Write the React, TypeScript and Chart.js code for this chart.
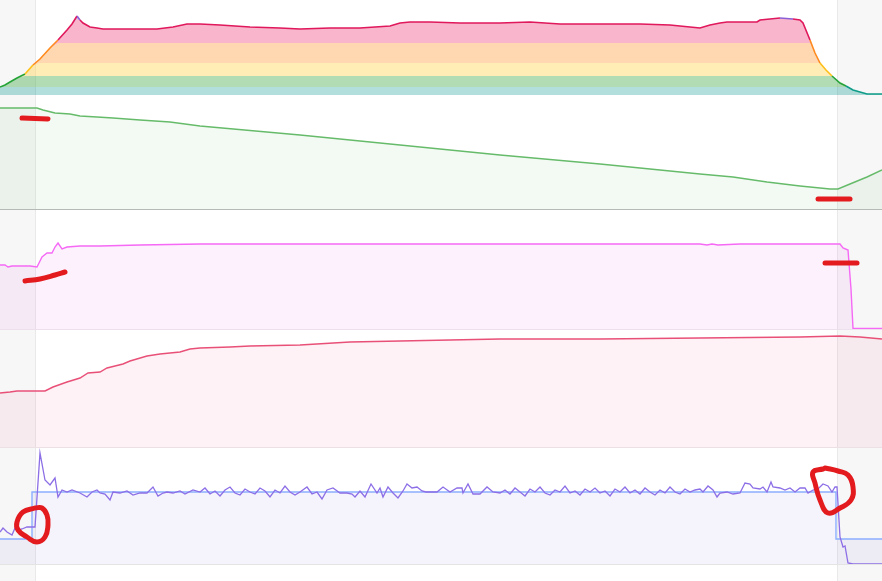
import React, { useEffect, useRef } from "react";
import { Chart, registerables } from "chart.js";
Chart.register(...registerables);

const WIDTH = 882;
const WORK_START = 35;
const WORK_END = 837;

// ---------- Panel 1: power with zones ----------
const powerT = [0, 5, 10, 17, 25, 33, 40, 50, 58, 67, 72, 77, 80, 83, 90, 97, 103, 130, 157, 173, 187, 200, 220, 250, 280, 300, 330, 360, 390, 400, 410, 430, 460, 500, 530, 560, 600, 640, 670, 690, 700, 710, 720, 727, 757, 760, 780, 793, 800, 803, 810, 815, 820, 826, 832, 840, 846, 853, 860, 867, 882];
const powerV = [8, 10, 13, 17, 21, 30, 36, 47, 55, 65, 71, 79, 75, 72, 68, 67, 66, 66, 66, 68, 71, 71, 70, 68, 67, 66, 67, 67, 69, 72, 73, 73, 72, 72, 73, 71, 71, 71, 70, 68, 67, 70, 72, 73, 73, 75, 77, 76, 75, 72, 55, 42, 32, 25, 19, 12, 9, 5, 3, 1, 1];
const zoneTops = [8, 19, 32, 52, 76, 200];
const zoneLine = ["#0f9c88", "#26a338", "#ffbf1a", "#ff8a1e", "#e0185c", "#8d5fd6"];
const zoneFill = ["rgba(0,150,136,0.30)", "rgba(76,175,80,0.43)", "rgba(255,213,79,0.42)", "rgba(255,140,30,0.35)", "rgba(233,30,99,0.33)", "rgba(126,87,194,0.40)"];

// ---------- Panel 2: green declining ----------
const greenT = [0, 37, 43, 55, 70, 80, 97, 113, 140, 170, 200, 300, 400, 500, 600, 700, 733, 767, 800, 830, 838, 850, 867, 882];
const greenV = [101, 101, 99, 96, 95, 93, 92, 91, 89, 87, 83, 74, 64, 54, 45, 35, 32, 27, 23, 20, 20, 25, 32, 39];
const greenMarkT = [22, 35, 48];
const greenMarkV = [91, 90.5, 90];
const greenMark2T = [818, 850];
const greenMark2V = [10, 10];

// ---------- Panel 3: magenta ----------
const magT = [0, 5, 8, 12, 20, 30, 37, 42, 47, 52, 55, 58, 62, 67, 80, 100, 140, 200, 300, 400, 500, 600, 700, 707, 712, 718, 740, 760, 840, 843, 848, 851, 853, 882];
const magV = [64, 64, 62, 63, 63, 63, 62, 72, 76, 76, 82, 86, 80, 82, 83, 83, 84, 85, 85, 85, 85, 85, 85, 84, 85, 84, 85, 85, 85, 81, 79, 40, 0.5, 0.5];
const magMarkT = [25, 40, 55, 65];
const magMarkV = [48, 50, 54, 57];
const magMark2T = [825, 857];
const magMark2V = [66, 66];

// ---------- Panel 4: crimson ----------
const crimT = [0, 10, 17, 45, 53, 67, 80, 88, 100, 107, 123, 130, 147, 160, 180, 190, 200, 230, 250, 300, 350, 400, 500, 600, 700, 800, 840, 860, 882];
const crimV = [54, 55, 56, 56, 60, 65, 69, 74, 75, 79, 83, 86, 91, 93, 95, 98, 99, 100, 101, 102, 105, 106, 108, 108, 109, 110, 111, 110, 108];

// ---------- Panel 5: purple noisy + target step ----------
const purpT = [0, 3, 7, 12, 15, 18, 22, 27, 32, 35, 40, 45, 50, 55, 58, 62, 67, 72, 80, 87, 92, 97, 100, 105, 110, 113, 120, 127, 133, 140, 147, 153, 158, 163, 167, 173, 180, 185, 193, 200,
  205, 210, 215, 220, 225, 230, 235, 240, 245, 250, 255, 260, 265, 270, 275, 280, 285, 290, 295,
  300, 307, 312, 317, 322, 327, 333, 340, 347, 352, 355, 360, 365, 371, 377, 380, 383, 388, 393, 398, 403, 407, 412, 417, 422, 426, 430, 437, 443, 450, 457, 462, 463, 468, 473, 480, 487, 493, 500,
  505, 510, 515, 520, 525, 530, 535, 540, 545, 550, 555, 560, 565, 570, 575, 580, 585, 590, 595, 600, 605, 610, 615, 620, 625, 630, 635, 640, 645, 650, 655, 660, 665, 670, 675, 680, 685, 690, 695,
  700, 703, 708, 713, 717, 720, 727, 733, 740, 745, 750, 753, 760, 763, 767, 771, 773, 780, 785, 790, 795, 800, 805, 808, 813, 818, 823, 828, 832, 835, 837, 840, 843, 845, 848, 853, 882];
const purpV = [32, 36, 32, 29, 36, 34, 35, 37, 37, 37, 111, 84, 79, 86, 67, 74, 72, 74, 71, 67, 72, 74, 71, 70, 64, 72, 71, 73, 69, 71, 71, 77, 68, 71, 72, 71, 73, 70, 74, 72,
  76, 70, 73, 68, 74, 77, 71, 69, 75, 72, 70, 76, 73, 67, 74, 71, 78, 72, 69,
  72, 77, 70, 72, 65, 74, 76, 71, 71, 70, 67, 73, 67, 80, 71, 76, 67, 77, 71, 66, 73, 80, 76, 77, 73, 72, 72, 72, 77, 72, 76, 76, 71, 80, 70, 70, 77, 72, 71,
  74, 70, 76, 72, 68, 75, 72, 77, 71, 69, 74, 72, 78, 71, 73, 69, 75, 72, 76, 71, 73, 68, 75, 72, 77, 71, 74, 70, 76, 72, 69, 74, 71, 77, 72, 70, 75, 72, 74,
  75, 72, 78, 74, 67, 71, 72, 70, 71, 81, 80, 76, 75, 77, 72, 82, 77, 76, 74, 76, 72, 76, 76, 71, 74, 75, 80, 78, 72, 77, 77, 27, 17, 18, 1, 0, 0];
const targetT = [0, 32, 836, 882];
const targetV = [25, 72, 25, 25];
const circle1T = [35, 23, 17, 18, 27, 37, 45, 48, 47, 42, 35];
const circle1V = [56, 52, 42, 34, 27, 22, 27, 39, 49, 56, 56];
const circle2T = [823, 813, 815, 820, 828, 840, 851, 853, 848, 838, 825];
const circle2V = [95, 92, 81, 64, 51, 56, 64, 77, 89, 93, 96];

const RED = "#e31b1f";

const pts = (t: number[], v: number[]) => t.map((x, i) => ({ x, y: v[i] }));

const zoneIndex = (v: number) => {
  for (let i = 0; i < zoneTops.length; i++) if (v <= zoneTops[i]) return i;
  return zoneTops.length - 1;
};

const shadePlugin = {
  id: "shade",
  beforeDraw(chart: any) {
    const { ctx } = chart;
    const xs = chart.scales.x;
    const x1 = Math.round(xs.getPixelForValue(WORK_START));
    const x2 = Math.round(xs.getPixelForValue(WORK_END));
    ctx.save();
    ctx.fillStyle = "#f7f7f7";
    ctx.fillRect(0, 0, x1, chart.height);
    ctx.fillRect(x2, 0, chart.width - x2, chart.height);
    ctx.fillStyle = "#e9e9e9";
    ctx.fillRect(x1, 0, 1, chart.height);
    ctx.fillRect(x2, 0, 1, chart.height);
    ctx.restore();
  },
  afterDatasetsDraw(chart: any, _args: any, opts: any) {
    if (!opts || !opts.border) return;
    const { ctx, chartArea } = chart;
    ctx.save();
    ctx.strokeStyle = opts.border;
    ctx.lineWidth = 1;
    ctx.beginPath();
    ctx.moveTo(0, Math.round(chartArea.bottom) + 0.5);
    ctx.lineTo(chart.width, Math.round(chartArea.bottom) + 0.5);
    ctx.stroke();
    ctx.restore();
  },
};

const mark = (t: number[], v: number[], tension = 0) => ({
  data: pts(t, v),
  borderColor: RED,
  borderWidth: 5,
  borderCapStyle: "round",
  borderJoinStyle: "round",
  tension,
  fill: false,
  order: -1,
});

type PanelDef = { top: number; height: number; padBottom: number; yMax: number; border: string | null; datasets: any[] };

const buildPanels = (): PanelDef[] => {
  const zoneSets = zoneTops.map((top, k) => ({
    data: powerT.map((x, i) => ({ x, y: Math.min(powerV[i], top) })),
    borderWidth: 0,
    backgroundColor: zoneFill[k],
    fill: k === 0 ? "origin" : "-1",
  }));
  return [
    {
      top: 0, height: 95, padBottom: 0, yMax: 95, border: null,
      datasets: [
        {
          data: pts(powerT, powerV),
          borderWidth: 1.6,
          borderColor: zoneLine[4],
          fill: false,
          segment: {
            borderColor: (c: any) => zoneLine[zoneIndex((c.p0.parsed.y + c.p1.parsed.y) / 2)],
          },
        },
        ...zoneSets,
      ],
    },
    {
      top: 95, height: 115, padBottom: 1, yMax: 114, border: "#b5bab5",
      datasets: [
        mark(greenMarkT, greenMarkV),
        mark(greenMark2T, greenMark2V),
        { data: pts(greenT, greenV), borderColor: "rgb(102,187,106)", borderWidth: 1.4, fill: "origin", backgroundColor: "rgba(102,187,106,0.08)" },
      ],
    },
    {
      top: 210, height: 120, padBottom: 1, yMax: 119, border: "#ebe0eb",
      datasets: [
        mark(magMarkT, magMarkV, 0.4),
        mark(magMark2T, magMark2V),
        { data: pts(magT, magV), borderColor: "rgb(245,105,245)", borderWidth: 1.4, fill: "origin", backgroundColor: "rgba(230,100,240,0.09)" },
      ],
    },
    {
      top: 330, height: 118, padBottom: 1, yMax: 117, border: "#ede0e4",
      datasets: [
        { data: pts(crimT, crimV), borderColor: "rgb(233,80,120)", borderWidth: 1.4, fill: "origin", backgroundColor: "rgba(233,30,99,0.06)" },
      ],
    },
    {
      top: 448, height: 133, padBottom: 17, yMax: 116, border: "#e4e4e4",
      datasets: [
        mark(circle1T, circle1V, 0.45),
        mark(circle2T, circle2V, 0.45),
        { data: pts(purpT, purpV), borderColor: "rgb(140,110,230)", borderWidth: 1.3, fill: false },
        { data: pts(targetT, targetV), borderColor: "rgb(140,175,255)", borderWidth: 1.4, stepped: "before", fill: "origin", backgroundColor: "rgba(110,90,200,0.07)" },
      ],
    },
  ];
};

function Panel({ def }: { def: PanelDef }) {
  const ref = useRef<HTMLCanvasElement | null>(null);
  useEffect(() => {
    if (!ref.current) return;
    const chart = new Chart(ref.current, {
      type: "line",
      data: { datasets: def.datasets },
      options: {
        responsive: false,
        animation: false,
        devicePixelRatio: 1,
        layout: { padding: { left: 0, right: 0, top: 0, bottom: def.padBottom } },
        scales: {
          x: { type: "linear", min: 0, max: WIDTH, display: false },
          y: { min: 0, max: def.yMax, display: false },
        },
        elements: { point: { radius: 0, hoverRadius: 0 }, line: { tension: 0 } },
        plugins: {
          legend: { display: false },
          tooltip: { enabled: false },
          shade: { border: def.border },
        } as any,
      },
      plugins: [shadePlugin as any],
    } as any);
    return () => chart.destroy();
  }, [def]);
  return (
    <canvas
      ref={ref}
      width={WIDTH}
      height={def.height}
      style={{ position: "absolute", left: 0, top: def.top, width: WIDTH, height: def.height, display: "block" }}
    />
  );
}

const panels = buildPanels();

export default function App() {
  return (
    <div style={{ position: "fixed", left: 0, top: 0, width: WIDTH, height: 581, background: "#fff", overflow: "hidden" }}>
      {panels.map((p, i) => (
        <Panel key={i} def={p} />
      ))}
    </div>
  );
}
